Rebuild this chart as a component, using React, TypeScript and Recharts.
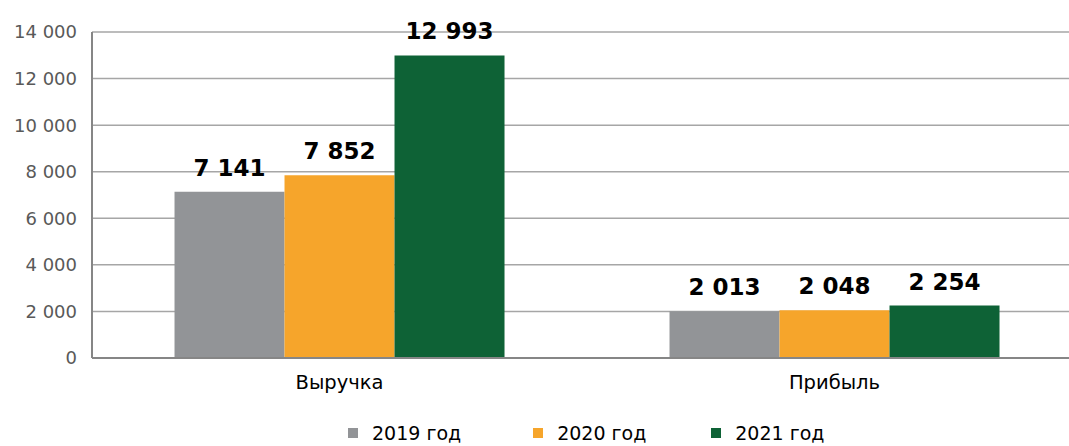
import { BarChart, Bar, XAxis, YAxis, CartesianGrid, Legend, LabelList } from 'recharts';

const categories = ['Выручка', 'Прибыль'];
const values2019 = [7141, 2013];
const values2020 = [7852, 2048];
const values2021 = [12993, 2254];
const yTicks = [0, 2000, 4000, 6000, 8000, 10000, 12000, 14000];
const seriesNames = ['2019 год', '2020 год', '2021 год'];
const seriesColors = ['#929497', '#F6A52B', '#0E6236'];

const chartData = categories.map((name, i) => ({
  name,
  y2019: values2019[i],
  y2020: values2020[i],
  y2021: values2021[i],
}));

const fmt = (v: number) => v.toString().replace(/\B(?=(\d{3})+(?!\d))/g, ' ');
const FONT = '"DejaVu Sans", Verdana, sans-serif';

function LegendBox() {
  return (
    <div style={{ height: 50, display: 'flex', alignItems: 'center', paddingLeft: 348, paddingTop: 24, boxSizing: 'border-box', fontFamily: FONT, fontSize: 19, lineHeight: '22px', color: '#000' }}>
      {seriesNames.map((n, i) => (
        <div key={n} style={{ display: 'flex', alignItems: 'center', marginRight: i === 0 ? 72 : 65 }}>
          <div style={{ width: 10, height: 10, background: seriesColors[i], marginRight: 14 }} />
          <span>{n}</span>
        </div>
      ))}
    </div>
  );
}

export default function App() {
  const keys = ['y2019', 'y2020', 'y2021'];
  return (
    <div style={{ position: 'fixed', left: 0, top: 0, width: 1069, height: 446, overflow: 'hidden', background: '#fff' }}>
      <BarChart
        width={1069}
        height={446}
        data={chartData}
        margin={{ top: 32, right: -13, left: 0, bottom: 0 }}
        barGap={0}
        barCategoryGap="16.67%"
      >
        <CartesianGrid vertical={false} stroke="#a6a6a6" strokeWidth={1.5} />
        <XAxis
          dataKey="name"
          height={38}
          axisLine={{ stroke: '#868686', strokeWidth: 2 }}
          tickLine={false}
          tickMargin={11}
          tick={{ fontFamily: FONT, fontSize: 19.5, fill: '#000' }}
        />
        <YAxis
          width={92}
          domain={[0, 14000]}
          ticks={yTicks}
          interval={0}
          tickFormatter={fmt}
          axisLine={{ stroke: '#868686', strokeWidth: 2 }}
          tickLine={false}
          tickMargin={9}
          tick={{ fontFamily: FONT, fontSize: 18, fill: '#595959' }}
        />
        <Legend verticalAlign="bottom" height={50} content={<LegendBox />} />
        {keys.map((k, i) => (
          <Bar key={k} dataKey={k} name={seriesNames[i]} fill={seriesColors[i]} isAnimationActive={false}>
            <LabelList
              dataKey={k}
              position="top"
              offset={16}
              formatter={(v: any) => fmt(Number(v))}
              style={{ fontFamily: FONT, fontSize: 23, fontWeight: 'bold', fill: '#000' }}
            />
          </Bar>
        ))}
      </BarChart>
    </div>
  );
}
